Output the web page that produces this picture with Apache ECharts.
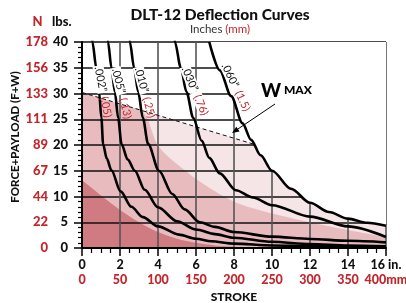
<!DOCTYPE html>
<html>
<head>
<meta charset="utf-8">
<script src="https://cdn.jsdelivr.net/npm/echarts@6.0.0/dist/echarts.min.js"></script>
<style>
  html, body { margin: 0; padding: 0; background: #fff; }
  #chart-container { width: 406px; height: 303px; }
</style>
</head>
<body>
<div id="chart-container"></div>
<script>
// tick labels
var inchTicks = [0, 2, 4, 6, 8, 10, 12, 14, 16];
var mmTicks = [0, 50, 100, 150, 200, 250, 300, 350, 400];
var lbsTicks = [0, 5, 10, 15, 20, 25, 30, 35, 40];
var newtonTicks = [0, 22, 44, 67, 89, 111, 133, 156, 178];

// deflection curves, [stroke in, load lbs]
var curve002 = [[0.5, 42], [0.55, 40], [0.75, 35], [0.9, 30.3], [1.02, 25.3], [1.11, 20.2], [1.3, 17.4], [1.55, 15.1],
  [2.03, 11], [2.6, 8], [3.2, 6], [4, 4.2], [5.1, 2.6], [6, 1.8], [6.8, 1.3], [8, 0.85], [10, 0.5], [12, 0.32], [14, 0.22], [16, 0.15]];
var curve005 = [[1.33, 42], [1.37, 40], [1.55, 35], [1.73, 30.3], [1.9, 25.3], [2.08, 20.2], [2.4, 17.2], [2.78, 15],
  [3.3, 11.3], [4, 7.9], [5, 5.2], [6, 3.6], [7, 2.7], [8, 2.0], [10, 1.2], [12, 0.75], [14, 0.48], [16, 0.33]];
var curve010 = [[2.48, 42], [2.52, 40], [2.74, 35], [2.96, 30.3], [3.2, 25.3], [3.48, 20.2], [4.05, 15], [4.75, 10.5],
  [5.4, 7.5], [6.2, 5], [7, 4.1], [8, 3.1], [10, 2.2], [12, 1.75], [14, 1.4], [16, 1.1]];
var curve030 = [[4.85, 42], [4.89, 40], [5.2, 35], [5.5, 30.3], [5.85, 25.3], [6.3, 20.8], [6.7, 17.5], [7.25, 14.5],
  [8.1, 11.2], [9, 9.8], [10, 8.3], [12, 6.1], [14, 4.2], [16, 2.15]];
var curve060 = [[6.7, 40], [7.25, 34.5], [7.85, 29.5], [8.45, 24.2], [8.9, 21], [9.4, 18], [10, 15], [11, 11.5],
  [12, 8.8], [13, 7], [14, 5.7], [15, 4.9], [16, 4.3]];

// W max line and shaded zones
var wMaxLine = [[0, 30.2], [9.04, 20.16]];
var mediumEdge = [[3.15, 26.7], [3.45, 25], [3.7, 22.5], [3.95, 20.2], [4.4, 18.2], [5, 16.3], [6, 13.4], [7, 11],
  [8, 9], [9, 7.7], [10, 6.7], [12, 5], [14, 3.5], [16, 2.1]];
var darkEdge = [[0, 13.2], [1, 10.2], [2, 7.4], [3, 5], [4, 3.1], [5, 1.8], [6, 1.0], [7, 0.5], [8, 0.25], [10, 0.05], [12, 0], [16, 0]];

var RED = "#c1272d";
var FONT = "Lato";

var lightZone = [[0, 30.2], [4.5, 25.2], [8.6, 20.65]].concat(wMaxLine.slice(1), curve060.filter(function (p) { return p[0] > 9.1; }));
var mediumZone = [[0, 30.2], [2.5, 27.43]].concat(mediumEdge);

var chartDom = document.getElementById("chart-container");
var myChart = echarts.init(chartDom);

function zone(data, color) {
  return {
    type: "line", data: data, smooth: 0.3, symbol: "none", z: 1, silent: true,
    lineStyle: { width: 0, opacity: 0 },
    areaStyle: { color: color, opacity: 1 }
  };
}

function curve(data) {
  return {
    type: "line", data: data, smooth: 0.3, smoothMonotone: "x", symbol: "none", z: 6, silent: true,
    lineStyle: { color: "#000", width: 2.6 }
  };
}

// rotated curve label; redBg = background behind the mm part
function curveLabel(x, y, deg, a, b, redBg) {
  return {
    type: "text", x: x, y: y, rotation: -deg * Math.PI / 180, z: 20,
    style: {
      text: "{a|" + a + "}{b| " + b + "}",
      align: "center", verticalAlign: "middle",
      rich: {
        a: { fontFamily: FONT, fontSize: 11, fill: "#111", backgroundColor: "#fff", padding: [0, 1] },
        b: { fontFamily: FONT, fontSize: 11, fill: RED, backgroundColor: redBg || "transparent", padding: [0, 1] }
      }
    }
  };
}

var option = {
  animation: false,
  grid: { left: 82, right: 20, top: 42, bottom: 55, outerBoundsMode: "none" },
  xAxis: {
    type: "value", min: 0, max: 16, interval: 2, z: 3,
    name: "STROKE", nameLocation: "middle", nameGap: 42,
    nameTextStyle: { fontFamily: FONT, fontWeight: 900, fontSize: 12, color: "#111" },
    axisLine: { show: true, lineStyle: { color: "#000", width: 2 } },
    axisTick: { show: true, length: 8, lineStyle: { color: "#000", width: 1.5 } },
    minorTick: { show: true, splitNumber: 4, length: 5, lineStyle: { color: "#000", width: 1.2 } },
    splitLine: { show: true, lineStyle: { color: "#555", width: 1.6 } },
    axisLabel: {
      margin: 9,
      formatter: function (v) {
        var i = inchTicks.indexOf(v);
        var last = i === inchTicks.length - 1;
        return "{a|" + v + (last ? " in." : "") + "}\n{b|" + mmTicks[i] + (last ? "mm" : "") + "}";
      },
      rich: {
        a: { fontFamily: FONT, fontWeight: 900, fontSize: 12.5, color: "#111", lineHeight: 15 },
        b: { fontFamily: FONT, fontWeight: 900, fontSize: 12.5, color: RED, lineHeight: 15 }
      }
    }
  },
  yAxis: {
    type: "value", min: 0, max: 40, interval: 5, z: 3,
    axisLine: { show: true, lineStyle: { color: "#000", width: 2 } },
    axisTick: { show: true, length: 8, lineStyle: { color: "#000", width: 1.5 } },
    minorTick: { show: true, splitNumber: 5, length: 4, lineStyle: { color: "#000", width: 1.2 } },
    splitLine: { show: true, lineStyle: { color: "#111", width: 1.5 } },
    axisLabel: {
      margin: 14,
      formatter: function (v) {
        var i = lbsTicks.indexOf(v);
        return "{n|" + newtonTicks[i] + "}{l|" + v + "}";
      },
      rich: {
        n: { fontFamily: FONT, fontWeight: 900, fontSize: 13, color: RED, width: 26, align: "right" },
        l: { fontFamily: FONT, fontWeight: 900, fontSize: 13, color: "#111", width: 20, align: "right" }
      }
    }
  },
  series: [
    zone(lightZone, "#f6e5e6"),
    zone(mediumZone, "#e8bbbe"),
    zone(darkEdge, "#d07b81"),
    {
      // white mask above the .060 curve hides the grid there
      type: "line", data: curve060, smooth: 0.3, smoothMonotone: "x", symbol: "none", z: 4, silent: true,
      lineStyle: { width: 0, opacity: 0 },
      areaStyle: { color: "#fff", opacity: 1, origin: "end" }
    },
    {
      type: "line", data: wMaxLine, symbol: "none", z: 5, silent: true,
      lineStyle: { color: "#111", width: 1, type: [4, 3] }
    },
    curve(curve002),
    curve(curve005),
    curve(curve010),
    curve(curve030),
    curve(curve060)
  ],
  graphic: [
    {
      type: "text", x: 220, y: 15, z: 20,
      style: { text: "DLT-12 Deflection Curves", align: "center", verticalAlign: "middle",
        fontFamily: FONT, fontWeight: 900, fontSize: 15.5, fill: "#111" }
    },
    {
      type: "text", x: 220, y: 29, z: 20,
      style: {
        text: "{a|Inches }{b|(mm)}", align: "center", verticalAlign: "middle",
        rich: { a: { fontFamily: FONT, fontSize: 11.5, fill: "#333" }, b: { fontFamily: FONT, fontSize: 11.5, fill: RED } }
      }
    },
    {
      type: "text", x: 37.5, y: 22, z: 20,
      style: { text: "N", align: "center", verticalAlign: "middle", fontFamily: FONT, fontWeight: 900, fontSize: 13, fill: RED }
    },
    {
      type: "text", x: 52, y: 22, z: 20,
      style: { text: "lbs.", align: "left", verticalAlign: "middle", fontFamily: FONT, fontWeight: 900, fontSize: 13, fill: "#111" }
    },
    {
      type: "text", x: 15, y: 137, rotation: Math.PI / 2, z: 20,
      style: { text: "FORCE+PAYLOAD (F+W)", align: "center", verticalAlign: "middle",
        fontFamily: FONT, fontWeight: 900, fontSize: 11.5, fill: "#111" }
    },
    curveLabel(103, 92, 79, ".002\u201d", "(.05)"),
    curveLabel(121.7, 93.5, 76, ".005\u201d", "(.13)"),
    curveLabel(145, 92.7, 75, ".010\u201d", "(.25)"),
    curveLabel(195, 91, 67, ".030\u201d", "(.76)", "#fff"),
    curveLabel(235.8, 87.2, 64, ".060\u201d", "(1.5)", "#fff"),
    {
      type: "text", x: 261, y: 100, z: 20,
      style: {
        text: "{w|W}{m| MAX}", align: "left", verticalAlign: "bottom",
        rich: {
          w: { fontFamily: FONT, fontWeight: 900, fontSize: 19, fill: "#000" },
          m: { fontFamily: FONT, fontWeight: 900, fontSize: 12, fill: "#000" }
        }
      }
    },
    {
      type: "line", z: 20,
      shape: { x1: 275, y1: 104, x2: 236, y2: 130.3 },
      style: { stroke: "#000", lineWidth: 1 }
    },
    {
      type: "polygon", z: 20,
      shape: { points: [[232, 133], [236.3, 126.8], [239.6, 131.6]] },
      style: { fill: "#000" }
    }
  ]
};

myChart.setOption(option);
</script>
</body>
</html>
